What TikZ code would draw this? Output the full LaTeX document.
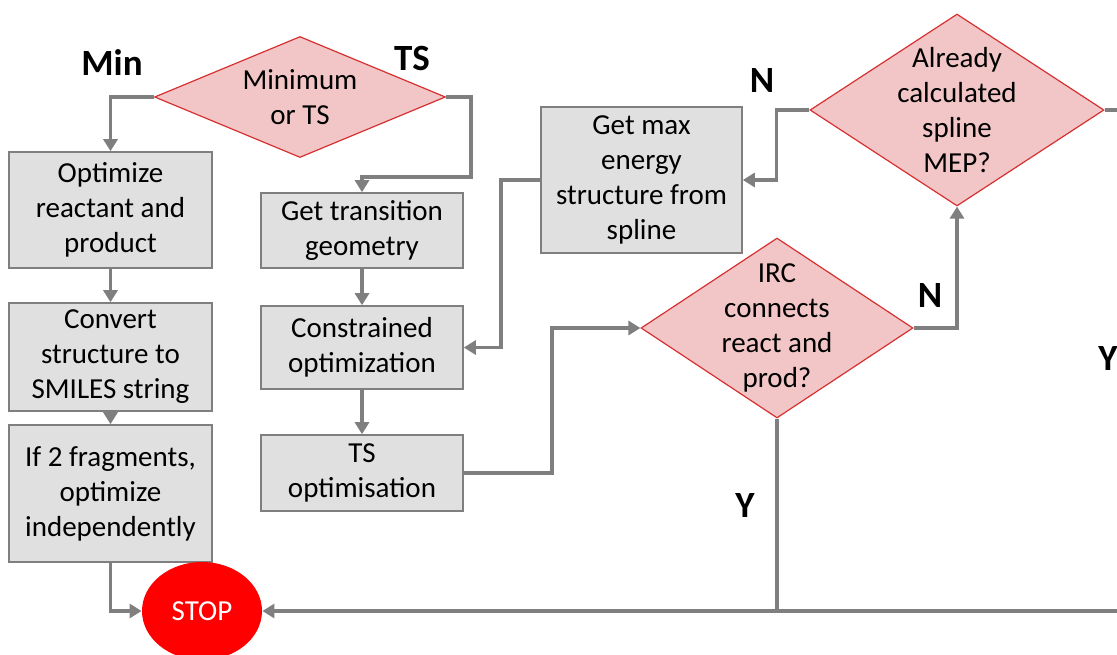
\documentclass[tikz,border=0pt]{standalone}
\usepackage{fontspec}
\setmainfont{Carlito}
\usepackage{xcolor}
\usepackage{tikz}
\usetikzlibrary{shapes.geometric,arrows.meta}

\definecolor{boxgray}{RGB}{224,224,224}
\definecolor{linegray}{RGB}{127,127,127}
\definecolor{decpink}{RGB}{242,198,198}
\definecolor{decred}{RGB}{214,48,48}

\tikzset{
  stepbox/.style={draw=linegray, line width=0.8pt, fill=boxgray, rectangle, minimum width=101.5pt, align=center, inner sep=0pt, font=\fontsize{14.5}{17.5}\selectfont},
  decision/.style={draw=decred, line width=0.6pt, fill=decpink, diamond, inner sep=0pt},
  dectext/.style={align=center, inner sep=0pt, font=\fontsize{14.5}{17.5}\selectfont},
  flow/.style={draw=linegray, line width=1.8pt, -{Triangle[length=6pt,width=7pt]}},
  flowline/.style={draw=linegray, line width=1.8pt},
  answer/.style={font=\fontsize{18.5}{20}\selectfont\bfseries}
}

\begin{document}
\begin{tikzpicture}[x=0.5pt, y=-0.5pt]
            \useasboundingbox (0,0) rectangle (1117,654);
            \clip (0,0) rectangle (1117,654);

            \node[decision, minimum width=145.5pt, minimum height=60.5pt] (dec1) at (300,97) {};
            \node[dectext] (dec1t) at (dec1) {Minimum\\or TS};

            \node[stepbox, minimum height=58pt] (opt) at (110.5,210) {Optimize\\reactant and\\product};
            \node[stepbox, minimum height=54pt] (conv) at (110.5,357) {Convert\\structure to\\SMILES string};
            \node[stepbox, minimum height=68.5pt] (frag) at (110.5,493.5) {If 2 fragments,\\optimize\\independently};

            \node[stepbox, minimum width=101pt, minimum height=37.5pt] (trans) at (362,230.5) {Get transition\\geometry};
            \node[stepbox, minimum width=101pt, minimum height=41.5pt] (cons) at (362,347.5) {Constrained\\optimization};
            \node[stepbox, minimum width=101pt, minimum height=38pt] (tsopt) at (362,473) {TS\\optimisation};

            \node[stepbox, minimum width=100.5pt, minimum height=73pt] (maxE) at (641.5,180) {Get max\\energy\\structure from\\spline};

            \node[decision, minimum width=147pt, minimum height=96pt] (dec2) at (957,110) {};
            \node[dectext] (dec2t) at (dec2) {Already\\calculated\\spline\\MEP?};

            \node[decision, minimum width=136pt, minimum height=90pt] (irc) at (777,328) {};
            \node[dectext] (irct) at (irc) {IRC\\connects\\react and\\prod?};

            \node[ellipse, fill=red, minimum width=60pt, minimum height=49pt, inner sep=0pt, text=white, font=\fontsize{14.5}{17.5}\selectfont] (stop) at (202,611) {STOP};

            \coordinate (offT) at (1130,110);
            \coordinate (offB) at (1130,611);

            \draw[flow] (dec1.west) -| (opt.north);
            \draw[flow] (dec1.east) -- ++(25,0) -- ++(0,80) -| (trans.north);

            \draw[flow] (opt) -- (conv);
            \draw[flow] (conv) -- (frag);
            \draw[flow] (frag.south) |- (stop.west);

            \draw[flow] (trans) -- (cons);
            \draw[flow] (cons) -- (tsopt);
            \draw[flow] (tsopt.east) -- ++(88,0) |- (irc.west);

            \draw[flow] (irc.east) -| (dec2.south);
            \draw[flow] (dec2.west) -- ++(-33,0) |- (maxE.east);
            \draw[flow] (maxE.west) -- ++(-39,0) |- (cons.east);

            \draw[flowline] (irc.south) -- (irc.south |- stop.east);
            \draw[flowline] (dec2.east) -- (offT);
            \draw[flow] (offB) -- (stop.east);

            \node[answer] (lmin) at (112,63) {Min};
            \node[answer] (lts) at (412,58) {TS};
            \node[answer] (ln1) at (762,80) {N};
            \node[answer] (ln2) at (930,295) {N};
            \node[answer] (ly1) at (745,505) {Y};
            \node[answer] (ly2) at (1108,358) {Y};
        \end{tikzpicture}
\end{document}
